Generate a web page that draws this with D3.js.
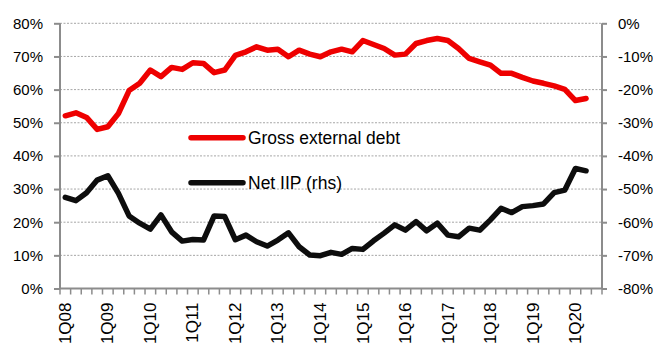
<!DOCTYPE html>
<html>
<head>
<meta charset="utf-8">
<script src="https://cdn.jsdelivr.net/npm/d3@7"></script>
<style>
  html, body { margin: 0; padding: 0; background: #fff; }
  svg { display: block; }
  text { font-family: "Liberation Sans", Arial, sans-serif; fill: #000; }
</style>
</head>
<body>
<svg id="chart" width="653" height="343"></svg>
<script>
const categories = [
  "1Q08","2Q08","3Q08","4Q08","1Q09","2Q09","3Q09","4Q09",
  "1Q10","2Q10","3Q10","4Q10","1Q11","2Q11","3Q11","4Q11",
  "1Q12","2Q12","3Q12","4Q12","1Q13","2Q13","3Q13","4Q13",
  "1Q14","2Q14","3Q14","4Q14","1Q15","2Q15","3Q15","4Q15",
  "1Q16","2Q16","3Q16","4Q16","1Q17","2Q17","3Q17","4Q17",
  "1Q18","2Q18","3Q18","4Q18","1Q19","2Q19","3Q19","4Q19",
  "1Q20","2Q20","3Q20"
];
const tickLabels = ["1Q08","1Q09","1Q10","1Q11","1Q12","1Q13","1Q14","1Q15","1Q16","1Q17","1Q18","1Q19","1Q20"];
const grossExternalDebt = [
  52.1, 53.0, 51.6, 48.0, 48.8, 52.8, 59.7, 61.9,
  65.9, 63.9, 66.7, 66.1, 68.1, 67.9, 65.1, 65.9,
  70.3, 71.4, 72.9, 71.9, 72.2, 69.9, 71.9, 70.7,
  69.9, 71.4, 72.2, 71.4, 74.8, 73.6, 72.4, 70.4,
  70.7, 73.9, 74.8, 75.4, 74.8, 72.4, 69.4, 68.4,
  67.4, 64.9, 64.9, 63.7, 62.6, 61.9, 61.1, 60.1,
  56.7, 57.3, null
];
const netIIP = [
  -52.5, -53.5, -51.1, -47.3, -46.0, -51.3, -58.1, -60.3,
  -62.1, -57.8, -62.9, -65.7, -65.2, -65.4, -58.1, -58.3,
  -65.3, -63.9, -65.9, -67.2, -65.4, -63.2, -67.4, -69.9,
  -70.1, -69.1, -69.7, -67.9, -68.2, -65.6, -63.3, -60.8,
  -62.4, -59.8, -62.6, -60.3, -63.9, -64.4, -61.8, -62.4,
  -59.3, -55.8, -57.1, -55.3, -55.0, -54.5, -51.1, -50.3,
  -43.8, -44.5, null
];
const leftTicks = [0, 10, 20, 30, 40, 50, 60, 70, 80];
const rightTicks = [0, -10, -20, -30, -40, -50, -60, -70, -80];
const seriesNames = ["Gross external debt", "Net IIP (rhs)"];

const svg = d3.select("#chart");
const L = 60, R = 602, T = 23.3, B = 288.5;
const axisColor = "#8c8c8c";

const x = d3.scaleBand().domain(categories).range([L, R]).padding(0);
const yL = d3.scaleLinear().domain([0, 80]).range([B, T]);
const yR = d3.scaleLinear().domain([-80, 0]).range([B, T]);
const cx = c => x(c) + x.bandwidth() / 2;

// gridlines
svg.append("g").selectAll("line")
  .data(leftTicks.filter(d => d > 0))
  .join("line")
  .attr("x1", L).attr("x2", R)
  .attr("y1", d => yL(d)).attr("y2", d => yL(d))
  .attr("stroke", "#a6a6a6").attr("stroke-width", 1)
  .attr("stroke-dasharray", "2,1.5");

// left axis
const gL = svg.append("g").attr("transform", `translate(${L},0)`)
  .call(d3.axisLeft(yL).tickValues(leftTicks).tickSize(6).tickPadding(11).tickFormat(d => d + "%"));
// right axis
const gR = svg.append("g").attr("transform", `translate(${R},0)`)
  .call(d3.axisRight(yR).tickValues(rightTicks).tickSize(5).tickPadding(11).tickFormat(d => d + "%"));
// bottom axis (labels)
const gB = svg.append("g").attr("transform", `translate(0,${B})`)
  .call(d3.axisBottom(x).tickValues(tickLabels).tickSize(0).tickPadding(0));

[gL, gR, gB].forEach(g => {
  g.select(".domain").attr("stroke", axisColor).attr("stroke-width", 2);
  g.selectAll(".tick line").attr("stroke", axisColor).attr("stroke-width", 2);
  g.selectAll("text").style("font-size", "15px").attr("fill", "#000")
    .style("font-family", "'Liberation Sans', Arial, sans-serif");
});
gL.select(".domain").attr("d", `M0,${B}V${T}`);
gR.select(".domain").attr("d", `M0,${B}V${T}`);
gB.select(".domain").attr("d", `M${L},0H${R}`);

gB.selectAll(".tick text")
  .style("font-size", "17px")
  .attr("transform", "rotate(-90)")
  .attr("text-anchor", "end")
  .attr("x", -14).attr("y", 0).attr("dy", "0.33em");

// category boundary ticks
svg.append("g").selectAll("line")
  .data(categories.map(c => x(c)).concat([R]))
  .join("line")
  .attr("x1", d => d).attr("x2", d => d)
  .attr("y1", B).attr("y2", B + 6)
  .attr("stroke", axisColor).attr("stroke-width", 1.5);

// lines
const lineL = d3.line().defined(d => d.v != null).x(d => cx(d.c)).y(d => yL(d.v));
const lineR = d3.line().defined(d => d.v != null).x(d => cx(d.c)).y(d => yR(d.v));
svg.append("path")
  .datum(categories.map((c, i) => ({c, v: netIIP[i]})))
  .attr("d", lineR).attr("fill", "none").attr("stroke", "#0d0d0d")
  .attr("stroke-width", 5.5).attr("stroke-linejoin", "round").attr("stroke-linecap", "round");
svg.append("path")
  .datum(categories.map((c, i) => ({c, v: grossExternalDebt[i]})))
  .attr("d", lineL).attr("fill", "none").attr("stroke", "#ee0000")
  .attr("stroke-width", 5.5).attr("stroke-linejoin", "round").attr("stroke-linecap", "round");

// legend
const legend = svg.append("g");
const legendItems = [
  {name: seriesNames[0], color: "#ee0000", y: 137.7, w: 152},
  {name: seriesNames[1], color: "#0d0d0d", y: 182.7, w: 94}
];
legendItems.forEach(it => {
  legend.append("line").attr("x1", 191).attr("x2", 243).attr("y1", it.y).attr("y2", it.y)
    .attr("stroke", it.color).attr("stroke-width", 5.5).attr("stroke-linecap", "round");
  legend.append("text").attr("x", 248).attr("y", it.y).attr("dy", "0.35em")
    .style("font-size", "18px").attr("textLength", it.w)
    .attr("lengthAdjust", "spacingAndGlyphs").text(it.name);
});
</script>
</body>
</html>
